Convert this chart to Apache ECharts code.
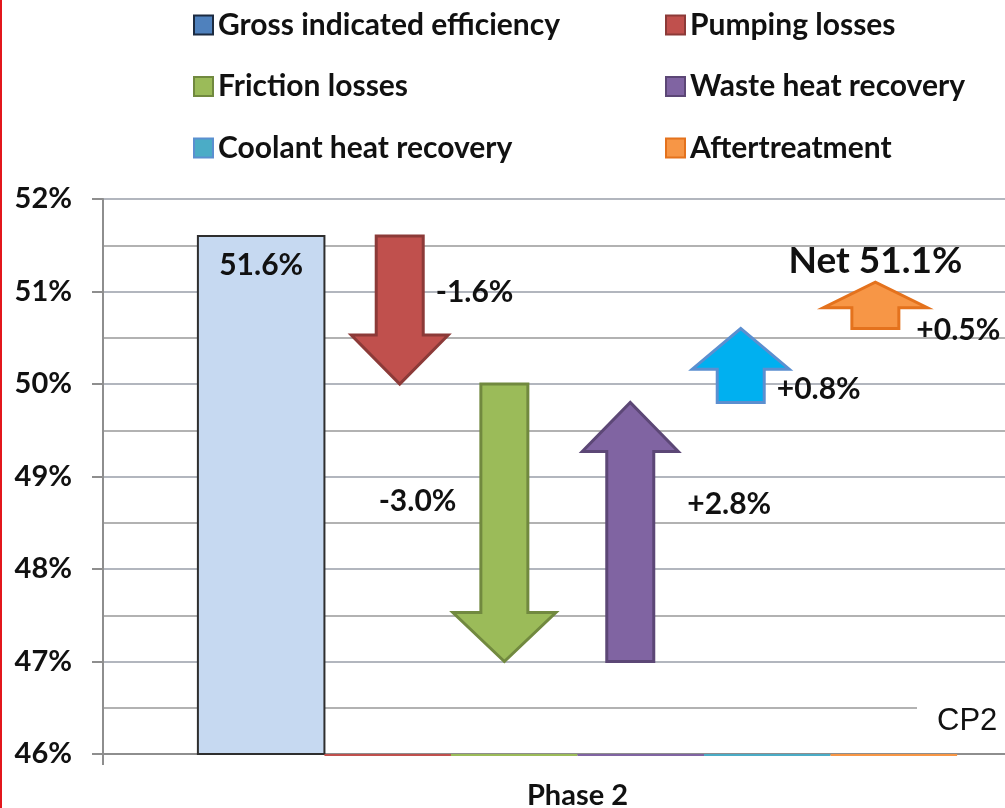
<!DOCTYPE html>
<html>
<head>
<meta charset="utf-8">
<script src="https://cdn.jsdelivr.net/npm/echarts@6/dist/echarts.min.js"></script>
<style>
  html, body { margin: 0; padding: 0; background: #ffffff; }
  #chart { width: 1005px; height: 808px; }
</style>
</head>
<body>
<div id="chart"></div>
<script>
// ---- data ----
const categories = ['Phase 2'];
const seriesNames = [
  'Gross indicated efficiency',
  'Pumping losses',
  'Friction losses',
  'Waste heat recovery',
  'Coolant heat recovery',
  'Aftertreatment'
];
const grossEfficiency = 51.6;                  // % (first column)
const stepChanges = [-1.6, -3.0, 2.8, 0.8, 0.5]; // % change per contribution
const axisMin = 46;
const axisMax = 52;
const axisStep = 1;
const cornerNote = 'CP2';

// ---- styling ----
const FONT = 'Lato, "Noto Sans", sans-serif';
const legendColors = ['#4f81bd', '#c0504d', '#9bbb59', '#8064a2', '#4bacc6', '#f79646'];
const arrowStyles = [
  { fill: '#c0504d', stroke: '#8c3a38', headW: 97,  shift: 0.095,  label: { align: 'left',  dx: 36,  dy: 56 } },
  { fill: '#9bbb59', stroke: '#71893f', headW: 103, shift: -0.078, label: { align: 'right', dx: -48, dy: 117 } },
  { fill: '#8064a2', stroke: '#5c4776', headW: 96,  shift: -0.083, label: { align: 'left',  dx: 57,  dy: -157 } },
  { fill: '#00b0f0', stroke: '#5b8fd0', headW: 97,  shift: -0.21,  label: { align: 'left',  dx: 36,  dy: -13 } },
  { fill: '#f79646', stroke: '#e4721d', headW: 104, shift: -0.146, label: { align: 'left',  dx: 41,  dy: 2 } }
];

// cumulative start / end of every contribution
let running = grossEfficiency;
const steps = stepChanges.map(function (d) {
  const start = running;
  const end = Math.round((running + d) * 10) / 10;
  running = end;
  return [0, start, end, d];
});
const netEfficiency = running;

function fmtChange(d) {
  return (d > 0 ? '+' : '') + d.toFixed(1) + '%';
}

// position of the idx-th slot inside the category band
function slotOf(api, idx) {
  const base = api.coord([0, axisMin]);
  const band = api.size([1, 0])[0];
  const w = band * 0.8 / seriesNames.length;
  return { left: base[0] - band * 0.4 + idx * w, width: w, baseY: base[1] };
}

function renderGross(params, api) {
  const s = slotOf(api, 0);
  const v = api.value(1);
  const top = api.coord([0, v])[1];
  return {
    type: 'group',
    children: [
      { type: 'rect', shape: { x: s.left, y: top, width: s.width, height: s.baseY - top },
        style: { fill: '#c6d9f1', stroke: '#2e2e2e', lineWidth: 2 } },
      { type: 'text', style: { x: s.left + s.width / 2, y: top + 29, text: v.toFixed(1) + '%',
        fontFamily: FONT, fontWeight: 'bold', fontSize: 30, fill: '#111',
        align: 'center', verticalAlign: 'middle' } }
    ]
  };
}

function makeArrowRenderer(k) {
  return function (params, api) {
    const st = arrowStyles[k];
    const s = slotOf(api, k + 1);
    const cx = s.left + s.width * (0.5 + st.shift);
    const from = api.value(1), to = api.value(2), d = api.value(3);
    const y0 = api.coord([0, from])[1];
    const y1 = api.coord([0, to])[1];
    const dir = y1 > y0 ? 1 : -1;
    const len = Math.abs(y1 - y0);
    const head = Math.min(49, len * 0.55);
    const yh = y1 - dir * head;
    const sw = 23.5, hw = st.headW / 2;
    const children = [
      { type: 'line', shape: { x1: s.left, y1: s.baseY + 1, x2: s.left + s.width, y2: s.baseY + 1 },
        style: { stroke: legendColors[k + 1], lineWidth: 2 } },
      { type: 'polygon',
        shape: { points: [
          [cx - sw, y0], [cx + sw, y0], [cx + sw, yh], [cx + hw, yh],
          [cx, y1], [cx - hw, yh], [cx - sw, yh]
        ] },
        style: { fill: st.fill, stroke: st.stroke, lineWidth: 3, lineJoin: 'miter' } },
      { type: 'text', style: { x: cx + st.label.dx, y: y0 + st.label.dy, text: fmtChange(d),
        fontFamily: FONT, fontWeight: 'bold', fontSize: 30, fill: '#111',
        align: st.label.align, verticalAlign: 'middle' } }
    ];
    if (k === stepChanges.length - 1) {
      children.push({ type: 'text', style: { x: cx, y: y1 - 21, text: 'Net ' + netEfficiency.toFixed(1) + '%',
        fontFamily: FONT, fontWeight: 'bold', fontSize: 37, fill: '#111',
        align: 'center', verticalAlign: 'middle' } });
    }
    return { type: 'group', children: children };
  };
}

const series = [{
  name: seriesNames[0],
  type: 'custom',
  itemStyle: { color: legendColors[0], borderColor: '#1c2b40', borderWidth: 1.5 },
  encode: { x: 0, y: 1 },
  data: [[0, grossEfficiency]],
  renderItem: renderGross
}].concat(steps.map(function (row, k) {
  return {
    name: seriesNames[k + 1],
    type: 'custom',
    itemStyle: { color: legendColors[k + 1], borderColor: arrowStyles[k].stroke, borderWidth: 1 },
    encode: { x: 0, y: [1, 2] },
    data: [row],
    renderItem: makeArrowRenderer(k)
  };
}));

const legendText = { fontFamily: FONT, fontWeight: 'bold', fontSize: 30, color: '#111', lineHeight: 30 };
const legendBase = {
  orient: 'vertical', top: 5, itemWidth: 19, itemHeight: 19, itemGap: 31.5,
  icon: 'rect', selectedMode: false, textStyle: legendText
};

const chart = echarts.init(document.getElementById('chart'), null, { renderer: 'canvas' });
chart.setOption({
  animation: false,
  backgroundColor: '#ffffff',
  // the plot band runs past the right edge of the page
  grid: { left: 103, top: 199, width: 949, height: 555, containLabel: false, outerBoundsMode: 'none' },
  legend: [
    Object.assign({}, legendBase, { left: 188, data: [0, 2, 4].map(function (i) { return seriesNames[i]; }) }),
    Object.assign({}, legendBase, { left: 660, data: [1, 3, 5].map(function (i) { return seriesNames[i]; }) })
  ],
  xAxis: {
    type: 'category',
    data: categories,
    axisLine: { lineStyle: { color: '#8e8e8e', width: 2 } },
    axisTick: { show: true, length: 11, lineStyle: { color: '#8e8e8e', width: 2 } },
    axisLabel: { margin: 27, fontFamily: FONT, fontWeight: 'bold', fontSize: 29, color: '#111' },
    splitLine: { show: false }
  },
  yAxis: {
    type: 'value',
    min: axisMin, max: axisMax, interval: axisStep,
    axisLine: { show: true, lineStyle: { color: '#8e8e8e', width: 2 } },
    axisTick: { show: true, length: 11, lineStyle: { color: '#8e8e8e', width: 2 } },
    axisLabel: { margin: 31, formatter: '{value}%', fontFamily: FONT, fontWeight: 'bold', fontSize: 29, color: '#111' },
    splitLine: { show: true, lineStyle: { color: '#b2b6be', width: 2 } },
    minorTick: { show: false, splitNumber: 2 },
    minorSplitLine: { show: true, lineStyle: { color: '#b2b2b2', width: 2 } }
  },
  series: series,
  graphic: [
    { type: 'rect', left: 0, top: 0, z: 100, shape: { width: 2, height: 808 }, style: { fill: '#e3161c' } },
    { type: 'rect', left: 917, top: 699, z: 100, shape: { width: 88, height: 44 }, style: { fill: '#ffffff' } },
    { type: 'text', left: 937, top: 706, z: 101,
      style: { text: cornerNote, fontFamily: '"Liberation Sans", Arial, sans-serif', fontSize: 31, fill: '#111' } }
  ]
});
</script>
</body>
</html>
